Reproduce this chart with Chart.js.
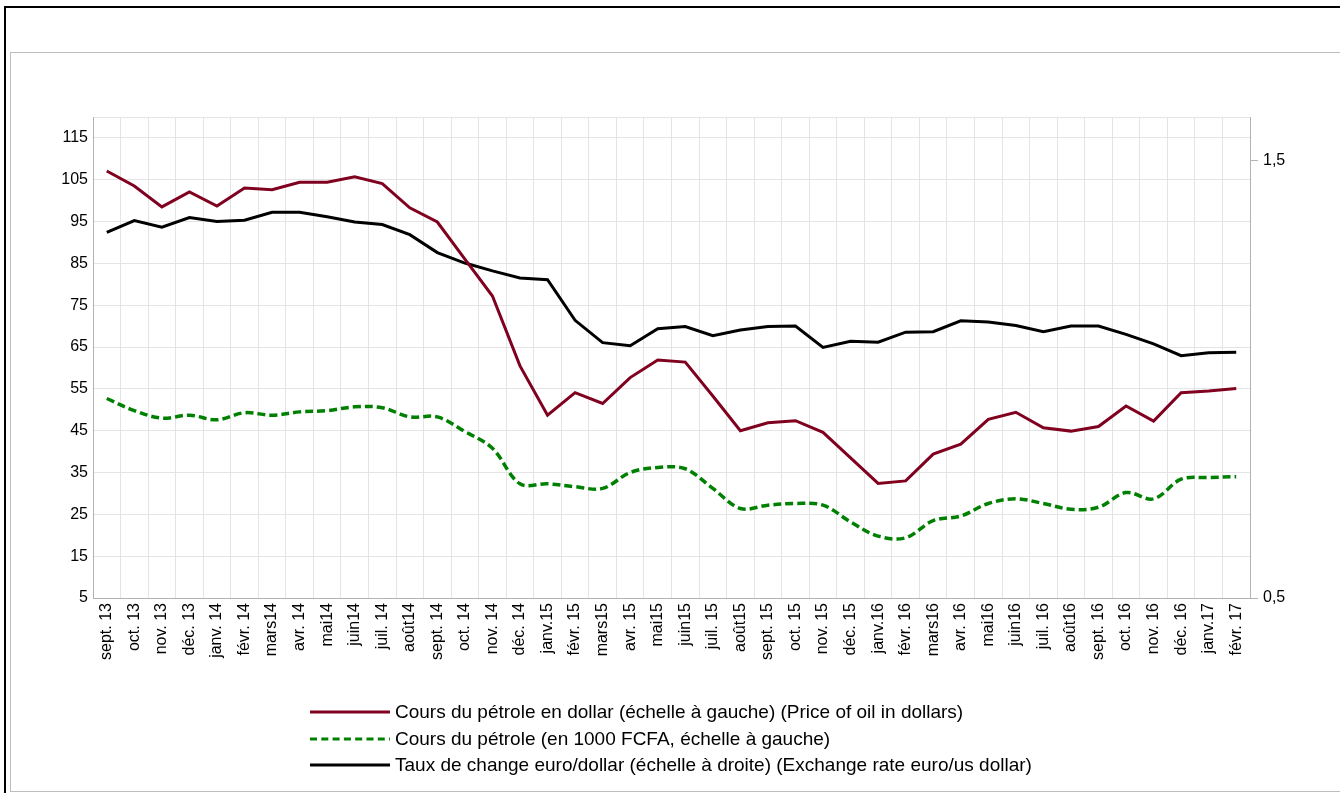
<!DOCTYPE html>
<html lang="fr">
<head>
<meta charset="utf-8">
<title>Cours du pétrole et taux de change euro/dollar</title>
<script src="https://cdn.jsdelivr.net/npm/chart.js@4.4.1/dist/chart.umd.min.js"></script>
<style>
  html, body { margin: 0; padding: 0; background: #fff; overflow: hidden; }
  body { width: 1340px; height: 793px; position: relative; font-family: "Liberation Sans", Arial, sans-serif; }
  #outer { position: absolute; left: 4px; top: 6px; width: 1400px; height: 900px; border: 2px solid #000; }
  #inner { position: absolute; left: 10px; top: 52px; width: 1400px; height: 738px; border: 1px solid #bdbdbd; }
  #wrap { position: absolute; left: 0; top: 0; width: 1340px; height: 700px; }
  #legend { position: absolute; left: 310px; top: 699px; }
  #legend .item { display: flex; align-items: center; height: 26.5px; white-space: nowrap; color: #000; }
  #legend svg { margin-right: 5px; flex: none; }
</style>
</head>
<body>
<div id="outer"></div>
<div id="inner"></div>
<div id="wrap"><canvas id="oilChart" width="1340" height="700"></canvas></div>
<div id="legend"></div>
<script>
// months, sept. 2013 -> févr. 2017
const months = [
  'sept. 13', 'oct. 13', 'nov. 13', 'déc. 13',
  'janv. 14', 'févr. 14', 'mars14', 'avr. 14', 'mai14', 'juin14', 'juil. 14', 'août14', 'sept. 14', 'oct. 14', 'nov. 14', 'déc. 14',
  'janv.15', 'févr. 15', 'mars15', 'avr. 15', 'mai15', 'juin15', 'juil. 15', 'août15', 'sept. 15', 'oct. 15', 'nov. 15', 'déc. 15',
  'janv.16', 'févr. 16', 'mars16', 'avr. 16', 'mai16', 'juin16', 'juil. 16', 'août16', 'sept. 16', 'oct. 16', 'nov. 16', 'déc. 16',
  'janv.17', 'févr. 17'
];

// oil price in dollars (left axis)
const oilDollar = [
  107.1, 103.5, 98.5, 102.1,
  98.7, 103.0, 102.6, 104.4, 104.4, 105.7, 104.1, 98.3, 94.9, 86.0, 77.2, 60.5,
  48.7, 54.1, 51.5, 57.7, 61.9, 61.4, 53.3, 45.0, 46.9, 47.4, 44.6, 38.5,
  32.4, 33.0, 39.4, 41.8, 47.7, 49.4, 45.7, 44.9, 46.0, 50.9, 47.3, 54.1,
  54.5, 55.1
];

// oil price in 1000 FCFA (left axis)
const oilFcfa = [
  52.7, 49.8, 48.0, 48.7,
  47.6, 49.3, 48.7, 49.5, 49.8, 50.7, 50.5, 48.3, 48.3, 44.8, 40.8, 32.3,
  32.3, 31.6, 31.2, 35.0, 36.2, 35.9, 31.2, 26.4, 27.2, 27.6, 27.2, 23.2,
  19.8, 19.4, 23.5, 24.6, 27.6, 28.7, 27.6, 26.2, 26.7, 30.2, 28.7, 33.4,
  33.8, 34.0
];

// euro/dollar exchange rate (right axis)
const eurUsd = [
  1.336, 1.363, 1.348, 1.370,
  1.361, 1.364, 1.382, 1.382, 1.372, 1.360, 1.354, 1.331, 1.290, 1.266, 1.248, 1.232,
  1.228, 1.135, 1.084, 1.077, 1.116, 1.121, 1.100, 1.113, 1.121, 1.122, 1.073, 1.087,
  1.085, 1.108, 1.109, 1.134, 1.131, 1.123, 1.109, 1.122, 1.122, 1.103, 1.081, 1.054,
  1.061, 1.062
];

const leftTicks = [5, 15, 25, 35, 45, 55, 65, 75, 85, 95, 105, 115];
const rightTicks = [0.5, 1.5];

function hasFont(name) {
  const c = document.createElement('canvas').getContext('2d');
  c.font = '40px monospace';
  const a = c.measureText('abcdefghij (ABC)').width;
  c.font = '40px "' + name + '", monospace';
  return c.measureText('abcdefghij (ABC)').width !== a;
}

const tickFont = { family: '"Liberation Sans", Arial, sans-serif', size: 16 };
const gridColor = '#e4e4e4';
const axisColor = '#b3b3b3';

const chart = new Chart(document.getElementById('oilChart'), {
  type: 'line',
  data: {
    labels: months,
    datasets: [{
      label: 'Cours du pétrole en dollar (échelle à gauche) (Price of oil in dollars)',
      data: oilDollar,
      yAxisID: 'y',
      borderColor: 'rgb(128, 0, 32)',
      borderWidth: 3,
      pointRadius: 0,
      tension: 0
    }, {
      label: 'Cours du pétrole (en 1000 FCFA, échelle à gauche)',
      data: oilFcfa,
      yAxisID: 'y',
      borderColor: 'rgb(0, 128, 0)',
      borderWidth: 3.5,
      borderDash: [8, 4],
      pointRadius: 0,
      tension: 0.35
    }, {
      label: 'Taux de change euro/dollar (échelle à droite) (Exchange rate euro/us dollar)',
      data: eurUsd,
      yAxisID: 'y1',
      borderColor: '#000000',
      borderWidth: 3,
      pointRadius: 0,
      tension: 0
    }]
  },
  options: {
    responsive: false,
    animation: false,
    layout: { padding: { top: 117, left: 0, right: 0, bottom: 0 } },
    plugins: {
      legend: { display: false },
      tooltip: { enabled: false }
    },
    scales: {
      x: {
        offset: true,
        grid: { offset: true, color: gridColor, drawTicks: false },
        border: { color: axisColor },
        ticks: { autoSkip: false, minRotation: 90, maxRotation: 90, padding: 5, color: '#000', font: tickFont },
        afterFit: function(scale) { scale.height = 102; }
      },
      y: {
        position: 'left',
        min: 5,
        max: 120,
        afterBuildTicks: function(scale) {
          scale.ticks = leftTicks.concat([120]).map(function(v) { return { value: v }; });
        },
        ticks: {
          padding: 5, color: '#000', font: tickFont,
          callback: function(v) { return v === 120 ? '' : String(v); }
        },
        grid: { color: gridColor, drawTicks: false },
        border: { color: axisColor },
        afterFit: function(scale) { scale.width = 93; }
      },
      y1: {
        position: 'right',
        min: 0.5,
        max: 1.6,
        afterBuildTicks: function(scale) {
          scale.ticks = rightTicks.map(function(v) { return { value: v }; });
        },
        ticks: {
          padding: 5, color: '#000', font: tickFont,
          callback: function(v) { return v.toFixed(1).replace('.', ','); }
        },
        grid: { drawOnChartArea: false, tickLength: 8, color: axisColor },
        border: { color: axisColor },
        afterFit: function(scale) { scale.width = 90; }
      }
    }
  }
});

// legend built from the chart's datasets, stacked and left aligned
const legendEl = document.getElementById('legend');
if (hasFont('Liberation Sans Narrow')) {
  legendEl.style.font = '22px "Liberation Sans Narrow", sans-serif';
} else {
  legendEl.style.font = '19px "Liberation Sans", Arial, sans-serif';
}
chart.data.datasets.forEach(function(ds) {
  const row = document.createElement('div');
  row.className = 'item';
  const dash = ds.borderDash ? ' stroke-dasharray="7 4.3"' : '';
  row.innerHTML = '<svg width="80" height="6"><line x1="0" y1="3" x2="80" y2="3" stroke="' +
    ds.borderColor + '" stroke-width="3"' + dash + '/></svg>';
  const span = document.createElement('span');
  span.textContent = ds.label;
  row.appendChild(span);
  legendEl.appendChild(row);
});
</script>
</body>
</html>
